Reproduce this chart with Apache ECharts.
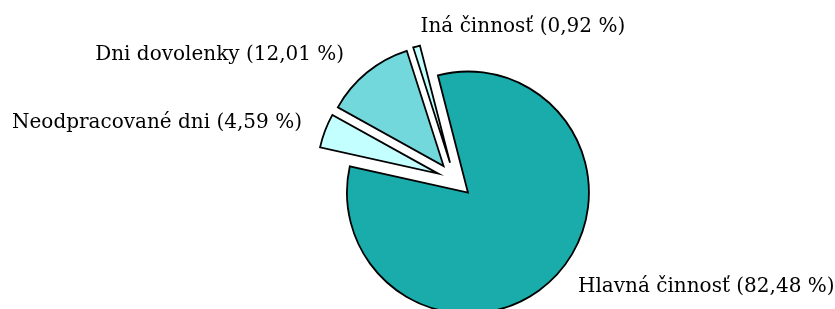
<!DOCTYPE html>
<html>
<head>
<meta charset="utf-8">
<script src="https://cdn.jsdelivr.net/npm/echarts@6/dist/echarts.min.js"></script>
<style>
html,body{margin:0;padding:0;background:#fff;}
#chart{width:835px;height:309px;}
</style>
</head>
<body>
<div id="chart"></div>
<script>
const categories = ['Hlavná činnosť', 'Neodpracované dni', 'Dni dovolenky', 'Iná činnosť'];
const values = [82.48, 4.59, 12.01, 0.92];

// styling (kept apart from the data)
const sliceColors = ['#1aabab', '#c4ffff', '#72d8dc', '#c4ffff'];
const labelLineLen = [15.1, 21.4, 22.5, 21.2];
const labelLineLen2 = [7.3, 0.1, 3.5, 0.1];

const chart = echarts.init(document.getElementById('chart'), null, {renderer: 'canvas'});

const data = categories.map((name, i) => ({
  name: name,
  value: values[i],
  selected: true,
  itemStyle: {color: sliceColors[i]},
  labelLine: {show: false, length: labelLineLen[i], length2: labelLineLen2[i]}
}));

chart.setOption({
  animation: false,
  series: [{
    type: 'pie',
    center: [455, 180],
    radius: 121,
    startAngle: 104.4,
    clockwise: true,
    selectedMode: 'multiple',
    selectedOffset: 18,
    avoidLabelOverlap: false,
    data: data,
    itemStyle: {borderColor: '#000', borderWidth: 1.8, borderJoin: 'miter'},
    select: {itemStyle: {borderColor: '#000', borderWidth: 1.8}},
    emphasis: {disabled: true, scale: false},
    label: {
      show: true,
      position: 'outside',
      color: '#000',
      fontFamily: 'DejaVu Serif',
      fontSize: 20,
      formatter: p => p.name + ' (' + p.value.toFixed(2).replace('.', ',') + ' %)'
    },
    labelLayout: function (params) {
      if (params.dataIndex === 3) {
        return {align: 'left', dx: 15, dy: 1};
      }
      if (params.dataIndex === 1) {
        return {dx: 2};
      }
      return {};
    }
  }]
});
</script>
</body>
</html>
